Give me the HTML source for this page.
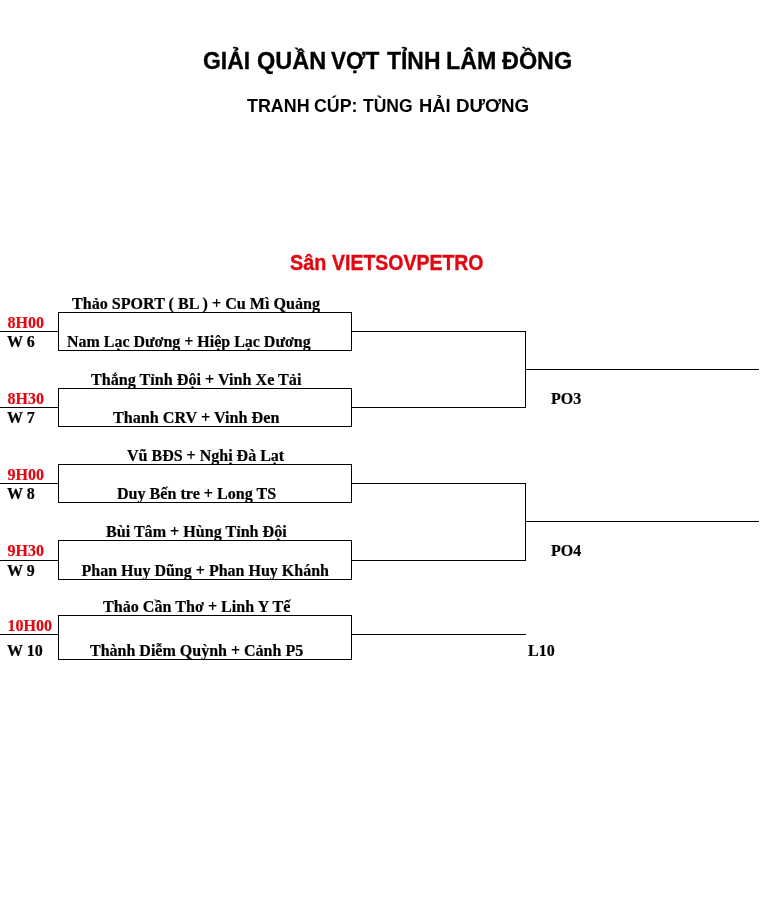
<!DOCTYPE html>
<html lang="vi">
<head>
<meta charset="utf-8">
<title>Giải quần vợt tỉnh Lâm Đồng</title>
<style>
html,body{margin:0;padding:0;background:#fff;}
body{width:780px;height:911px;position:relative;overflow:hidden;font-family:"Liberation Serif",serif;color:#000;}
.t{-webkit-text-stroke:0.2px;position:absolute;white-space:nowrap;line-height:1;font-weight:bold;font-size:16px;font-family:"Liberation Serif",serif;transform-origin:0 0;}
.s{font-family:"Liberation Sans",sans-serif;}
.r{color:#e10811;}
[id^="t1_"]{-webkit-text-stroke:0.3px #000;}
[id^="t2_"]{-webkit-text-stroke:0;}
[id^="t3_"]{-webkit-text-stroke:0.4px #e10811;}
.h{position:absolute;height:1px;background:#000;}
.v{position:absolute;width:1px;background:#000;}
.b{position:absolute;border:1px solid #000;box-sizing:border-box;}
</style>
</head>
<body>
<div id="L" style="position:absolute;left:0;top:0;width:780px;height:911px;will-change:transform;">
<!-- titles -->
<div class="t s" id="t1_0" style="left:202.76px;top:49.78px;font-size:23.3px;transform:scaleX(0.9838);">GIẢI</div>
<div class="t s" id="t1_1" style="left:256.98px;top:49.78px;font-size:23.3px;transform:scaleX(1.0098);">QUẦN</div>
<div class="t s" id="t1_2" style="left:331.39px;top:49.78px;font-size:23.3px;transform:scaleX(0.9708);">VỢT</div>
<div class="t s" id="t1_3" style="left:386.91px;top:49.78px;font-size:23.3px;transform:scaleX(0.9836);">TỈNH</div>
<div class="t s" id="t1_4" style="left:446.4px;top:49.78px;font-size:23.3px;transform:scaleX(0.996);">LÂM</div>
<div class="t s" id="t1_5" style="left:502.1px;top:49.78px;font-size:23.3px;transform:scaleX(1.004);">ĐỒNG</div>
<div class="t s" id="t2_0" style="left:247.15px;top:97.32px;font-size:18.4px;transform:scaleX(0.9716);">TRANH</div>
<div class="t s" id="t2_1" style="left:314.12px;top:97.32px;font-size:18.4px;transform:scaleX(0.9679);">CÚP:</div>
<div class="t s" id="t2_2" style="left:362.77px;top:97.32px;font-size:18.4px;transform:scaleX(0.9518);">TÙNG</div>
<div class="t s" id="t2_3" style="left:419.27px;top:97.32px;font-size:18.4px;transform:scaleX(0.9951);">HẢI</div>
<div class="t s" id="t2_4" style="left:455.51px;top:97.32px;font-size:18.4px;transform:scaleX(1.0191);">DƯƠNG</div>
<div class="t s r" id="t3_0" style="left:290.12px;top:252.35px;font-size:21.2px;transform:scaleX(0.9335);">Sân</div>
<div class="t s r" id="t3_1" style="left:331.58px;top:252.35px;font-size:21.2px;transform:scaleX(0.9193);">VIETSOVPETRO</div>

<!-- boxes -->
<div class="b" style="left:58px;top:312px;width:294px;height:39px;"></div>
<div class="b" style="left:58px;top:388px;width:294px;height:39px;"></div>
<div class="b" style="left:58px;top:464px;width:294px;height:39px;"></div>
<div class="b" style="left:58px;top:540px;width:294px;height:40px;"></div>
<div class="b" style="left:58px;top:615px;width:294px;height:45px;"></div>

<!-- left stubs -->
<div class="h" style="left:0;top:331px;width:58px;"></div>
<div class="h" style="left:0;top:407px;width:58px;"></div>
<div class="h" style="left:0;top:483px;width:58px;"></div>
<div class="h" style="left:0;top:560px;width:58px;"></div>
<div class="h" style="left:0;top:634px;width:58px;"></div>

<!-- right connectors -->
<div class="h" style="left:352px;top:331px;width:174px;"></div>
<div class="h" style="left:352px;top:407px;width:174px;"></div>
<div class="v" style="left:525px;top:331px;height:77px;"></div>
<div class="h" style="left:526px;top:369px;width:233px;"></div>

<div class="h" style="left:352px;top:483px;width:174px;"></div>
<div class="h" style="left:352px;top:560px;width:174px;"></div>
<div class="v" style="left:525px;top:483px;height:78px;"></div>
<div class="h" style="left:526px;top:521px;width:233px;"></div>

<div class="h" style="left:352px;top:634px;width:174px;"></div>

<!-- time labels -->
<div class="t r" id="a1" style="left:7.5px;top:315px;">8H00</div>
<div class="t r" id="a2" style="left:7.5px;top:391px;">8H30</div>
<div class="t r" id="a3" style="left:7.5px;top:467px;">9H00</div>
<div class="t r" id="a4" style="left:7.5px;top:543px;">9H30</div>
<div class="t r" id="a5" style="left:7.5px;top:618px;">10H00</div>

<div class="t" id="w1" style="left:7px;top:334px;">W 6</div>
<div class="t" id="w2" style="left:7px;top:410px;">W 7</div>
<div class="t" id="w3" style="left:7px;top:486px;">W 8</div>
<div class="t" id="w4" style="left:7px;top:563px;">W 9</div>
<div class="t" id="w5" style="left:7px;top:643px;">W 10</div>

<!-- team names -->
<div class="t" id="n1" style="left:72.4px;top:296px;transform:scaleX(1.0057);">Thảo SPORT ( BL ) + Cu Mì Quảng</div>
<div class="t" id="n2" style="left:66.6px;top:334px;transform:scaleX(0.9975);">Nam Lạc Dương + Hiệp Lạc Dương</div>
<div class="t" id="n3" style="left:91.2px;top:372px;transform:scaleX(1.0086);">Thắng Tỉnh Đội + Vinh Xe Tải</div>
<div class="t" id="n4" style="left:113px;top:410px;transform:scaleX(1.0097);">Thanh CRV + Vinh Đen</div>
<div class="t" id="n5" style="left:127px;top:448px;">Vũ BĐS + Nghị Đà Lạt</div>
<div class="t" id="n6" style="left:116.5px;top:486px;transform:scaleX(1.005);">Duy Bến tre + Long TS</div>
<div class="t" id="n7" style="left:106px;top:524px;transform:scaleX(1.0056);">Bùi Tâm + Hùng Tỉnh Đội</div>
<div class="t" id="n8" style="left:81.5px;top:563px;">Phan Huy Dũng + Phan Huy Khánh</div>
<div class="t" id="n9" style="left:103px;top:599px;transform:scaleX(1.007);">Thảo Cần Thơ + Linh Y Tế</div>
<div class="t" id="n10" style="left:90px;top:643px;">Thành Diễm Quỳnh + Cảnh P5</div>

<!-- round labels -->
<div class="t" id="p1" style="left:551px;top:391px;">PO3</div>
<div class="t" id="p2" style="left:551px;top:543px;">PO4</div>
<div class="t" id="p3" style="left:528px;top:643px;">L10</div>
</div>
</body>
</html>
